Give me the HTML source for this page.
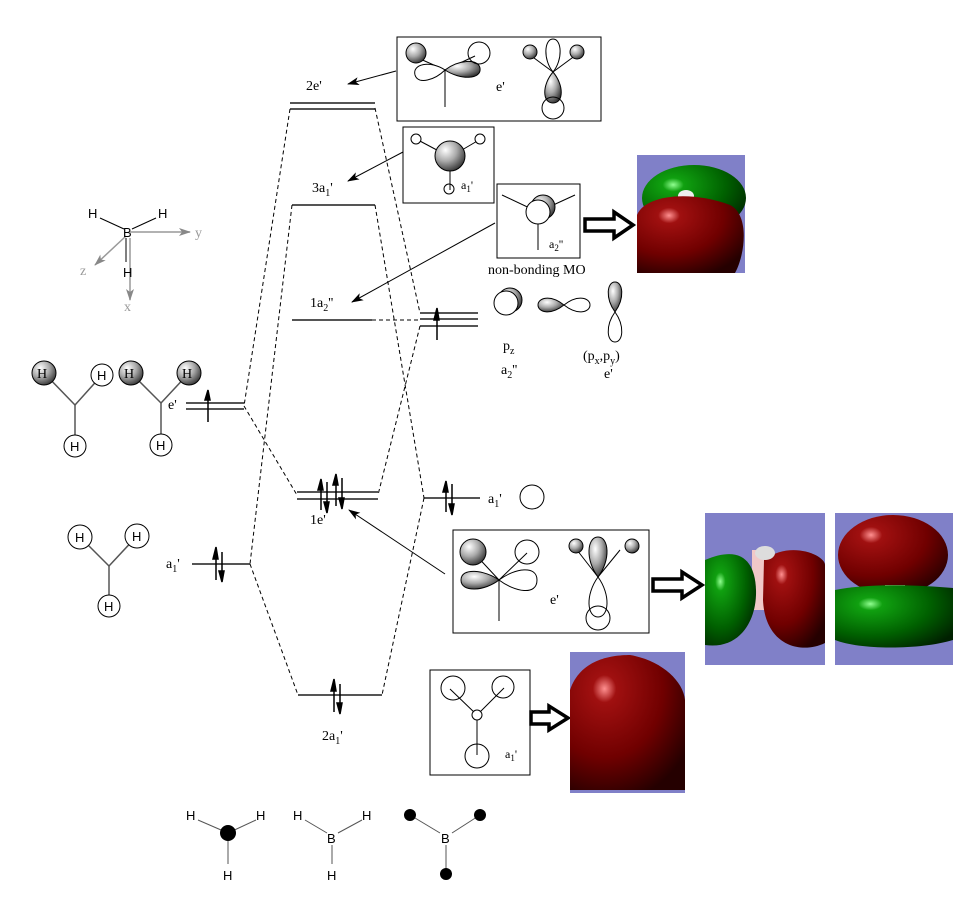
<!DOCTYPE html>
<html><head><meta charset="utf-8"><style>
html,body{margin:0;padding:0;background:#fff}
svg{display:block}
text{font-family:"Liberation Serif",serif;font-size:14px;fill:#000}
.s{font-family:"Liberation Sans",sans-serif;font-size:13px}
</style></head><body>
<svg width="963" height="924" viewBox="0 0 963 924" xmlns="http://www.w3.org/2000/svg">
<defs>
<radialGradient id="g" cx="35%" cy="30%" r="75%"><stop offset="0" stop-color="#fff"/><stop offset="0.5" stop-color="#aaa"/><stop offset="1" stop-color="#333"/></radialGradient>
<radialGradient id="red" cx="30%" cy="25%" r="85%"><stop offset="0" stop-color="#ff9090"/><stop offset="0.12" stop-color="#a01010"/><stop offset="0.6" stop-color="#700000"/><stop offset="1" stop-color="#250000"/></radialGradient>
<radialGradient id="grn" cx="30%" cy="30%" r="85%"><stop offset="0" stop-color="#90ff90"/><stop offset="0.12" stop-color="#10a010"/><stop offset="0.6" stop-color="#006000"/><stop offset="1" stop-color="#002000"/></radialGradient>
<marker id="ah" markerWidth="12" markerHeight="8" refX="11" refY="4" orient="auto" markerUnits="userSpaceOnUse"><path d="M0,0 L12,4 L0,8 L3,4z" fill="#000"/></marker>
<marker id="gah" markerWidth="12" markerHeight="8" refX="11" refY="4" orient="auto" markerUnits="userSpaceOnUse"><path d="M0,0 L12,4 L0,8 L3,4z" fill="#888"/></marker>
</defs>

<g stroke="#555" stroke-width="2">
<line x1="290" y1="103" x2="375" y2="103"/><line x1="290" y1="109" x2="375" y2="109"/>
<line x1="292" y1="205" x2="375" y2="205"/>
<line x1="292" y1="320" x2="372" y2="320"/>
<line x1="420" y1="313" x2="478" y2="313"/><line x1="420" y1="319" x2="478" y2="319"/><line x1="420" y1="326" x2="478" y2="326"/>
<line x1="186" y1="403" x2="244" y2="403"/><line x1="186" y1="409" x2="244" y2="409"/>
<line x1="297" y1="492" x2="378" y2="492"/><line x1="297" y1="499" x2="378" y2="499"/>
<line x1="424" y1="498" x2="480" y2="498"/>
<line x1="192" y1="564" x2="250" y2="564"/>
<line x1="298" y1="695" x2="382" y2="695"/>
</g>
<g stroke="#000" stroke-width="1" stroke-dasharray="4,3" fill="none">
<line x1="290" y1="109" x2="244" y2="406"/>
<line x1="292" y1="205" x2="250" y2="564"/>
<line x1="244" y1="406" x2="297" y2="495"/>
<line x1="250" y1="564" x2="298" y2="695"/>
<line x1="375" y1="108" x2="420" y2="313"/>
<line x1="375" y1="205" x2="424" y2="498"/>
<line x1="372" y1="320" x2="420" y2="320"/>
<line x1="420" y1="326" x2="378" y2="495"/>
<line x1="424" y1="498" x2="382" y2="695"/>
</g>
<g stroke="#000" stroke-width="1.5" fill="#000">
<line x1="437" y1="340" x2="437" y2="312"/><path d="M434,320 L437,308 L439,320z"/>
<line x1="208" y1="422" x2="208" y2="392"/><path d="M205,400 L208,390 L210,400z"/>
<line x1="321" y1="510" x2="321" y2="482"/><path d="M318,490 L321,479 L323,490z"/>
<line x1="327" y1="482" x2="327" y2="510"/><path d="M324,502 L327,513 L329,502z"/>
<line x1="336" y1="506" x2="336" y2="476"/><path d="M333,485 L336,474 L338,485z"/>
<line x1="342" y1="478" x2="342" y2="506"/><path d="M339,498 L342,509 L344,498z"/>
<line x1="446" y1="512" x2="446" y2="484"/><path d="M443,492 L446,481 L448,492z"/>
<line x1="452" y1="484" x2="452" y2="512"/><path d="M449,504 L452,515 L454,504z"/>
<line x1="216" y1="580" x2="216" y2="550"/><path d="M213,559 L216,547 L218,559z"/>
<line x1="222" y1="552" x2="222" y2="580"/><path d="M219,571 L222,582 L224,571z"/>
<line x1="334" y1="712" x2="334" y2="682"/><path d="M331,691 L334,679 L336,691z"/>
<line x1="340" y1="684" x2="340" y2="712"/><path d="M337,703 L340,714 L342,703z"/>
</g>
<text x="306" y="90">2e'</text>
<text x="312" y="192">3a<tspan font-size="10" dy="4">1</tspan><tspan dy="-4">'</tspan></text>
<text x="310" y="307">1a<tspan font-size="10" dy="4">2</tspan><tspan dy="-4">''</tspan></text>
<text x="310" y="524">1e'</text>
<text x="322" y="740">2a<tspan font-size="10" dy="4">1</tspan><tspan dy="-4">'</tspan></text>
<text x="168" y="409">e'</text>
<text x="166" y="568">a<tspan font-size="10" dy="4">1</tspan><tspan dy="-4">'</tspan></text>
<text x="488" y="503">a<tspan font-size="10" dy="4">1</tspan><tspan dy="-4">'</tspan></text>
<circle cx="532" cy="497" r="12" fill="none" stroke="#000"/>
<text x="503" y="350">p<tspan font-size="10" dy="4">z</tspan></text>
<text x="501" y="374">a<tspan font-size="10" dy="4">2</tspan><tspan dy="-4">''</tspan></text>
<text x="583" y="360">(p<tspan font-size="10" dy="4">x</tspan><tspan dy="-4">,p</tspan><tspan font-size="10" dy="4">y</tspan><tspan dy="-4">)</tspan></text>
<text x="604" y="378">e'</text>
<circle cx="510" cy="300" r="12" fill="url(#g)" stroke="#000"/>
<circle cx="506" cy="303" r="12" fill="#fff" stroke="#000"/>
<path d="M564,305 C550,294 538,298 538,305 C538,312 550,316 564,305z" fill="url(#g)" stroke="#000"/>
<path d="M564,305 C578,294 590,298 590,305 C590,312 578,316 564,305z" fill="#fff" stroke="#000"/>
<path d="M615,312 C605,298 607,282 615,282 C623,282 625,298 615,312z" fill="url(#g)" stroke="#000"/>
<path d="M615,312 C605,326 607,342 615,342 C623,342 625,326 615,312z" fill="#fff" stroke="#000"/>

<g stroke="#000" stroke-width="1">
<line x1="100" y1="218" x2="124" y2="229"/><line x1="156" y1="218" x2="132" y2="229"/>
<line x1="126" y1="238" x2="126" y2="262"/>
</g>
<g stroke="#999" stroke-width="1.5" fill="none">
<line x1="130" y1="232" x2="190" y2="232" marker-end="url(#gah)"/>
<line x1="126" y1="236" x2="95" y2="265" marker-end="url(#gah)"/>
<line x1="130" y1="238" x2="130" y2="300" marker-end="url(#gah)"/>
</g>
<text class="s" x="88" y="218">H</text><text class="s" x="158" y="218">H</text>
<text class="s" x="123" y="237">B</text><text class="s" x="123" y="277">H</text>
<text x="195" y="237" style="fill:#999">y</text>
<text x="80" y="275" style="fill:#999">z</text>
<text x="124" y="311" style="fill:#999">x</text>

<g stroke="#555" stroke-width="1.5">
<line x1="44" y1="373" x2="75" y2="405"/><line x1="102" y1="375" x2="75" y2="405"/><line x1="75" y1="405" x2="75" y2="443"/>
<line x1="131" y1="373" x2="161" y2="403"/><line x1="189" y1="373" x2="161" y2="403"/><line x1="161" y1="403" x2="161" y2="443"/>
<line x1="80" y1="537" x2="109" y2="566"/><line x1="137" y1="536" x2="109" y2="566"/><line x1="109" y1="566" x2="109" y2="606"/>
</g>
<g stroke="#000">
<circle cx="44" cy="373" r="12" fill="url(#g)"/><circle cx="102" cy="375" r="11" fill="#fff"/><circle cx="75" cy="446" r="11" fill="#fff"/>
<circle cx="131" cy="373" r="12" fill="url(#g)"/><circle cx="189" cy="373" r="12" fill="url(#g)"/><circle cx="161" cy="445" r="11" fill="#fff"/>
<circle cx="80" cy="537" r="12" fill="#fff"/><circle cx="137" cy="536" r="12" fill="#fff"/><circle cx="109" cy="606" r="11" fill="#fff"/>
</g>
<g>
<text x="37" y="378">H</text><text class="s" x="97" y="380">H</text><text class="s" x="70" y="451">H</text>
<text x="124" y="378">H</text><text x="182" y="378">H</text><text class="s" x="156" y="450">H</text>
<text class="s" x="75" y="542">H</text><text class="s" x="132" y="541">H</text><text class="s" x="104" y="611">H</text>
</g>

<rect x="397" y="37" width="204" height="84" fill="#fff" stroke="#000"/>
<line x1="445" y1="70" x2="445" y2="107" stroke="#000"/>
<line x1="418" y1="58" x2="445" y2="70" stroke="#000"/><line x1="475" y1="56" x2="445" y2="70" stroke="#000"/>
<path d="M445,70 C430,60 412,64 415,75 C418,85 435,80 445,70z" fill="#fff" stroke="#000"/>
<path d="M445,70 C458,60 478,58 480,68 C482,80 460,80 445,70z" fill="url(#g)" stroke="#000"/>
<circle cx="416" cy="53" r="10" fill="url(#g)" stroke="#000"/>
<circle cx="479" cy="53" r="11" fill="none" stroke="#000"/>
<text x="496" y="91">e'</text>
<line x1="553" y1="72" x2="530" y2="55" stroke="#000"/><line x1="553" y1="72" x2="576" y2="55" stroke="#000"/>
<path d="M553,72 C543,60 544,39 553,39 C562,39 563,60 553,72z" fill="#fff" stroke="#000"/>
<path d="M553,72 C542,85 542,103 553,103 C564,103 564,85 553,72z" fill="url(#g)" stroke="#000"/>
<circle cx="553" cy="108" r="11" fill="none" stroke="#000"/>
<circle cx="530" cy="52" r="7" fill="url(#g)" stroke="#000"/><circle cx="577" cy="52" r="7" fill="url(#g)" stroke="#000"/>

<rect x="403" y="127" width="91" height="76" fill="#fff" stroke="#000"/>
<line x1="418" y1="140" x2="450" y2="157" stroke="#000"/><line x1="479" y1="140" x2="450" y2="157" stroke="#000"/><line x1="450" y1="157" x2="450" y2="190" stroke="#000"/>
<circle cx="416" cy="139" r="5" fill="#fff" stroke="#000"/><circle cx="480" cy="139" r="5" fill="#fff" stroke="#000"/><circle cx="449" cy="189" r="5" fill="none" stroke="#000"/>
<circle cx="450" cy="156" r="15" fill="url(#g)" stroke="#000"/>
<text x="461" y="189" style="font-size:12px">a<tspan font-size="9" dy="3">1</tspan><tspan dy="-3">'</tspan></text>

<rect x="497" y="184" width="83" height="74" fill="#fff" stroke="#000"/>
<line x1="502" y1="195" x2="538" y2="212" stroke="#000"/><line x1="575" y1="195" x2="538" y2="212" stroke="#000"/><line x1="538" y1="212" x2="538" y2="250" stroke="#000"/>
<circle cx="543" cy="207" r="12" fill="url(#g)" stroke="#000"/>
<circle cx="538" cy="212" r="12" fill="#fff" stroke="#000"/>
<text x="549" y="248" style="font-size:12px">a<tspan font-size="9" dy="3">2</tspan><tspan dy="-3">''</tspan></text>
<text x="488" y="274">non-bonding MO</text>

<rect x="453" y="530" width="196" height="103" fill="#fff" stroke="#000"/>
<line x1="499" y1="580" x2="499" y2="621" stroke="#000"/>
<line x1="473" y1="552" x2="499" y2="580" stroke="#000"/><line x1="527" y1="553" x2="499" y2="580" stroke="#000"/>
<path d="M499,580 C515,568 537,565 537,580 C537,596 515,592 499,580z" fill="#fff" stroke="#000"/>
<path d="M499,580 C485,570 461,567 461,580 C461,593 485,591 499,580z" fill="url(#g)" stroke="#000"/>
<circle cx="473" cy="552" r="13" fill="url(#g)" stroke="#000"/>
<circle cx="527" cy="552" r="12" fill="none" stroke="#000"/>
<text x="550" y="604">e'</text>
<line x1="598" y1="577" x2="577" y2="550" stroke="#000"/><line x1="598" y1="577" x2="620" y2="550" stroke="#000"/>
<path d="M598,577 C585,560 587,537 598,537 C609,537 611,560 598,577z" fill="url(#g)" stroke="#000"/>
<path d="M598,577 C585,595 587,617 598,617 C609,617 611,595 598,577z" fill="#fff" stroke="#000"/>
<circle cx="598" cy="618" r="12" fill="none" stroke="#000"/>
<circle cx="576" cy="546" r="7" fill="url(#g)" stroke="#000"/><circle cx="632" cy="546" r="7" fill="url(#g)" stroke="#000"/>

<rect x="430" y="670" width="100" height="105" fill="#fff" stroke="#000"/>
<line x1="450" y1="689" x2="477" y2="715" stroke="#000"/><line x1="504" y1="688" x2="477" y2="715" stroke="#000"/><line x1="477" y1="715" x2="477" y2="755" stroke="#000"/>
<circle cx="453" cy="688" r="12" fill="none" stroke="#000"/><circle cx="503" cy="687" r="11" fill="none" stroke="#000"/>
<circle cx="477" cy="715" r="5" fill="#fff" stroke="#000"/><circle cx="477" cy="756" r="12" fill="none" stroke="#000"/>
<text x="505" y="758" style="font-size:12px">a<tspan font-size="9" dy="3">1</tspan><tspan dy="-3">'</tspan></text>

<g stroke="#000" stroke-width="1" fill="none">
<line x1="396" y1="71" x2="348" y2="84" marker-end="url(#ah)"/>
<line x1="403" y1="152" x2="348" y2="181" marker-end="url(#ah)"/>
<line x1="495" y1="223" x2="352" y2="302" marker-end="url(#ah)"/>
<line x1="445" y1="574" x2="349" y2="510" marker-end="url(#ah)"/>
</g>
<g stroke="#000" stroke-width="3.5" fill="#fff" stroke-linejoin="miter">
<path d="M585,219 L614,219 L614,212 L633,225 L614,238 L614,231 L585,231z"/>
<path d="M653,579 L682,579 L682,572 L702,585 L682,598 L682,591 L653,591z"/>
<path d="M531,712 L549,712 L549,706 L568,718 L549,730 L549,724 L531,724z"/>
</g>

<rect x="637" y="155" width="108" height="118" fill="#8080c8"/>
<ellipse cx="694" cy="198" rx="52" ry="33" fill="url(#grn)"/>
<ellipse cx="686" cy="196" rx="8" ry="6" fill="#eee"/>
<path d="M637,215 C645,195 690,190 730,205 C750,215 745,255 735,273 L637,273z" fill="url(#red)"/>

<rect x="705" y="513" width="120" height="152" fill="#8080c8"/>
<rect x="752" y="550" width="14" height="60" fill="#f0c8c8"/>
<path d="M705,560 C740,545 755,560 756,590 C757,620 740,650 705,645z" fill="url(#grn)"/>
<path d="M764,560 C790,540 825,555 825,565 L825,643 C800,655 765,645 763,600z" fill="url(#red)"/>
<ellipse cx="765" cy="553" rx="10" ry="7" fill="#ddd"/>

<rect x="835" y="513" width="118" height="152" fill="#8080c8"/>
<ellipse cx="893" cy="555" rx="55" ry="40" fill="url(#red)"/>
<rect x="885" y="585" width="20" height="6" fill="#f0c8c8"/>
<path d="M835,590 C870,583 920,585 953,588 L953,640 C920,650 860,650 835,640z" fill="url(#grn)"/>

<rect x="570" y="652" width="115" height="141" fill="#8080c8"/>
<path d="M570,690 C580,660 610,655 630,655 C660,660 683,680 685,700 L685,790 L570,790z" fill="url(#red)"/>

<g stroke="#555" stroke-width="1">
<line x1="198" y1="820" x2="228" y2="833"/><line x1="256" y1="820" x2="228" y2="833"/><line x1="228" y1="833" x2="228" y2="864"/>
<line x1="305" y1="820" x2="327" y2="833"/><line x1="362" y1="820" x2="338" y2="833"/><line x1="332" y1="845" x2="332" y2="864"/>
<line x1="410" y1="815" x2="440" y2="833"/><line x1="480" y1="815" x2="452" y2="833"/><line x1="446" y1="845" x2="446" y2="874"/>
</g>
<circle cx="228" cy="833" r="8" fill="#000"/>
<circle cx="410" cy="815" r="6" fill="#000"/><circle cx="480" cy="815" r="6" fill="#000"/><circle cx="446" cy="874" r="6" fill="#000"/>
<text class="s" x="186" y="820">H</text><text class="s" x="256" y="820">H</text><text class="s" x="223" y="880">H</text>
<text class="s" x="293" y="820">H</text><text class="s" x="362" y="820">H</text><text class="s" x="327" y="843">B</text><text class="s" x="327" y="880">H</text>
<text class="s" x="441" y="843">B</text>
</svg>
</body></html>
